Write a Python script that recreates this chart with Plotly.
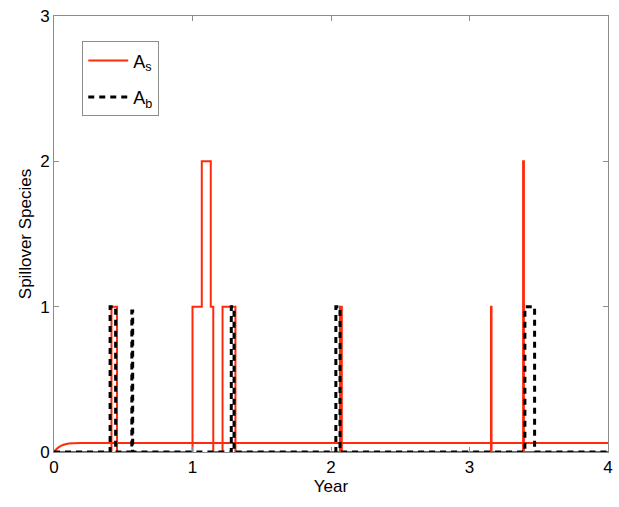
import plotly.graph_objects as go

RED = "#ff2a0a"
BLACK = "#000000"
FRAME = "#8c8c8c"
FONT = "Liberation Sans, Arial, sans-serif"

# smooth mean level of A_s (year, species)
mean_t = [0, 0.02, 0.05, 0.09, 0.14, 0.2, 4.0]
mean_as = [0, 0.022, 0.042, 0.055, 0.06, 0.062, 0.062]

# A_s: times where the count changes, and the count after each change
as_t = [0, 0.415, 0.455, 1.0, 1.067, 1.132, 1.15, 1.217, 1.31,
        2.065, 2.078, 3.155, 3.159, 3.387, 3.393, 4.0]
as_n = [0, 1, 0, 1, 2, 1, 0, 1, 0, 1, 0, 1, 0, 2, 0, 0]

# A_b
ab_t = [0, 0.405, 0.445, 0.562, 0.568, 1.28, 1.30, 2.035, 2.065, 3.40, 3.47, 4.0]
ab_n = [0, 1, 0, 0.97, 0, 1, 0, 1, 0, 1, 0, 0]

fig = go.Figure()
fig.add_trace(go.Scatter(x=mean_t, y=mean_as, mode="lines", showlegend=False,
                         line=dict(color=RED, width=2, shape="spline"),
                         hoverinfo="skip"))
fig.add_trace(go.Scatter(x=as_t, y=as_n, mode="lines", name="A<sub>s</sub>",
                         legendgroup="s",
                         line=dict(color=RED, width=2, shape="hv")))
fig.add_trace(go.Scatter(x=ab_t, y=ab_n, mode="lines", name="A<sub>b</sub>",
                         legendgroup="b",
                         line=dict(color=BLACK, width=3, shape="hv", dash="6px,5px")))

axis = dict(showgrid=False, zeroline=False, showline=True, linecolor=FRAME,
            linewidth=1, mirror="ticks", ticks="inside", ticklen=5,
            tickcolor=FRAME, tickfont=dict(size=17, color="black"),
            automargin=False)
fig.update_xaxes(range=[0, 4], tickvals=[0, 1, 2, 3, 4], **axis,
                 title=dict(text="Year", font=dict(size=17), standoff=0))
fig.update_yaxes(range=[0, 3], tickvals=[0, 1, 2, 3], **axis,
                 title=dict(text="Spillover Species", font=dict(size=17), standoff=4))

fig.update_layout(
    width=619, height=507,
    paper_bgcolor="white", plot_bgcolor="white",
    font=dict(family=FONT, color="black"),
    margin=dict(l=54, r=11, t=16, b=55),
    legend=dict(x=0.051, y=0.942, xanchor="left", yanchor="top",
                bgcolor="white", bordercolor=FRAME, borderwidth=1,
                font=dict(size=18), traceorder="grouped", tracegroupgap=10,
                itemwidth=40),
)

fig.write_html("out.html", config={"displayModeBar": False},
               post_script="document.body.style.margin='0';")
